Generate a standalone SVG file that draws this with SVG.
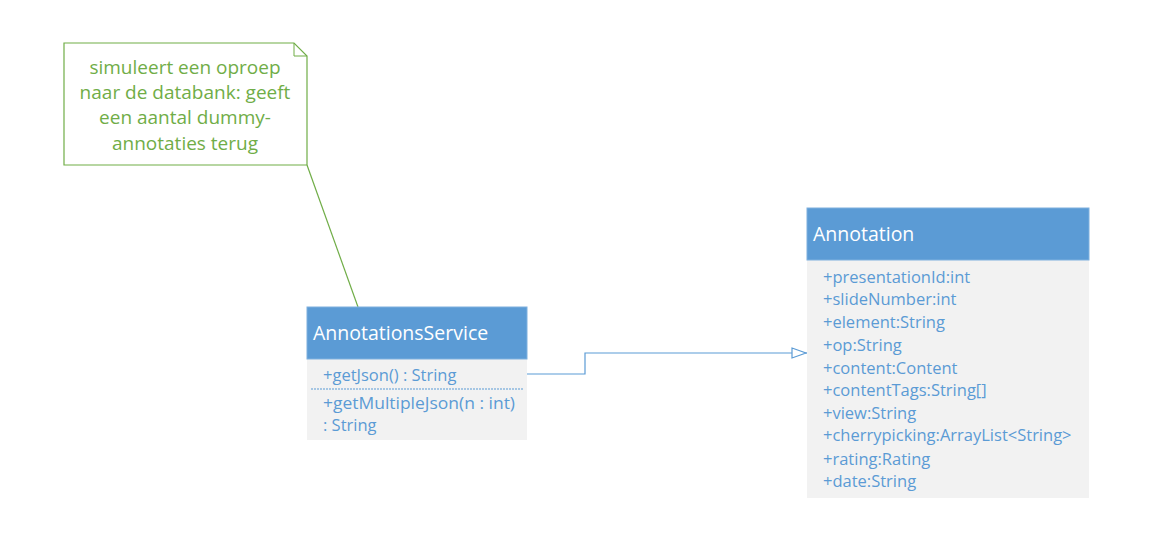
<svg xmlns="http://www.w3.org/2000/svg" width="1157" height="558" viewBox="0 0 1157 558">
<defs>
<style>
.hdr{fill:#5B9BD5;stroke:#7FB0DE;stroke-width:1}
.body{fill:#F2F2F2}
.title{font-family:"Open Sans","Liberation Sans",sans-serif;font-size:19.5px;fill:#FFFFFF}
.item{font-family:"Open Sans","Liberation Sans",sans-serif;font-size:16.5px;fill:#5B9BD5}
.note{font-family:"Open Sans","Liberation Sans",sans-serif;font-size:19px;fill:#70AD47;text-anchor:middle}
.conn{fill:none;stroke:#5B9BD5;stroke-width:1.2}
</style>
<marker id="tri" viewBox="0 0 16 12" refX="16" refY="6" markerWidth="16" markerHeight="12" markerUnits="userSpaceOnUse" orient="auto">
<path d="M1,1 L15,6 L1,11 Z" fill="#FFFFFF" stroke="#5B9BD5" stroke-width="1.2"/>
</marker>
</defs>
<rect width="1157" height="558" fill="#FFFFFF"/>
<g id="connectors">
<path class="conn" d="M527,374 H585 V353 H807" marker-end="url(#tri)"/>
<path d="M307,165 L358,307" fill="none" stroke="#70AD47" stroke-width="1.2"/>
</g>
<g id="note">
<path d="M64,43 H294 L307,56 V165 H64 Z" fill="#FFFFFF" stroke="#70AD47" stroke-width="1.2"/>
<path d="M294,43 V56 H307" fill="none" stroke="#70AD47" stroke-width="1"/>
<text class="note" x="185" y="74">simuleert een oproep</text>
<text class="note" x="185" y="99">naar de databank: geeft</text>
<text class="note" x="185" y="124">een aantal dummy-</text>
<text class="note" x="185" y="150">annotaties terug</text>
</g>
<g id="AnnotationsService">
<rect class="body" x="307" y="359" width="220" height="81"/>
<rect class="hdr" x="307" y="307" width="220" height="52"/>
<text class="title" x="313" y="340">AnnotationsService</text>
<text class="item" x="323" y="381">+getJson() : String</text>
<line x1="311" y1="389" x2="523" y2="389" stroke="#5B9BD5" stroke-width="1" stroke-dasharray="2,1"/>
<text class="item" x="323" y="409" textLength="192" lengthAdjust="spacingAndGlyphs">+getMultipleJson(n : int)</text>
<text class="item" x="323" y="431">: String</text>
</g>
<g id="Annotation">
<rect class="body" x="807" y="260" width="282" height="238"/>
<rect class="hdr" x="807" y="208" width="282" height="52"/>
<text class="title" x="813" y="241">Annotation</text>
<text class="item" x="823" y="283">+presentationId:int</text>
<text class="item" x="823" y="305">+slideNumber:int</text>
<text class="item" x="823" y="328">+element:String</text>
<text class="item" x="823" y="351">+op:String</text>
<text class="item" x="823" y="374">+content:Content</text>
<text class="item" x="823" y="396">+contentTags:String[]</text>
<text class="item" x="823" y="419">+view:String</text>
<text class="item" x="823" y="441">+cherrypicking:ArrayList&lt;String&gt;</text>
<text class="item" x="823" y="465">+rating:Rating</text>
<text class="item" x="823" y="487">+date:String</text>
</g>
</svg>
